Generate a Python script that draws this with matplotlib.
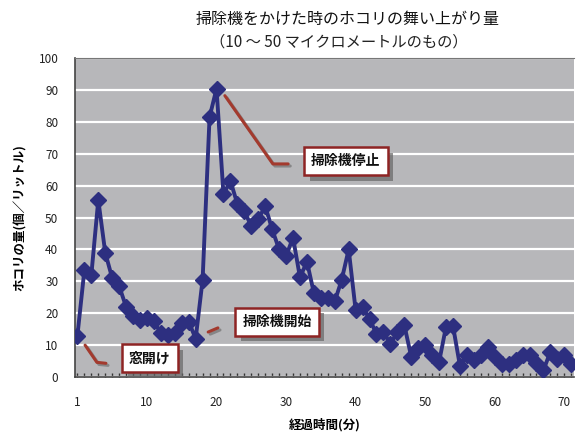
import matplotlib.pyplot as plt
import matplotlib.patheffects as pe
import numpy as np

plt.rcParams['font.family'] = ['Noto Sans CJK JP', 'DejaVu Sans']

# dust per litre, one reading per minute (72 readings)
dust = [13, 33.5, 32, 55.5, 39, 31, 28.5, 22, 19, 18, 18.5, 17.5,
        13.7, 13.2, 13.7, 16.8, 17.4, 12, 30.5, 81.5, 90.4, 57.3,
        61.5, 54.2, 52, 47.3, 49.4, 53.6, 46.3, 40, 37.9, 43.7,
        31.2, 36.2, 26.3, 24.7, 24.7, 23.7, 30.5, 40, 21, 22,
        18.2, 13.5, 14, 10.5, 14, 16.3, 6.3, 9, 10, 6.8,
        4.7, 15.8, 16, 3.5, 6.8, 5.3, 6.8, 9.5, 6.3, 4.2,
        4.2, 5.3, 6.8, 6.8, 4.3, 2.1, 7.9, 5.8, 6.8, 4.2]
tick_pos = [0, 10, 20, 30, 40, 50, 60, 70]
tick_labels = ['1', '10', '20', '30', '40', '50', '60', '70']
y_ticks = list(range(0, 101, 10))

title = '掃除機をかけた時のホコリの舞い上がり量'
subtitle = '（10 ～ 50 マイクロメートルのもの）'
xlabel = '経過時間(分)'
ylabel = 'ホコリの量(個／リットル)'

# callouts: text, box centre, leader line points (data units)
notes = [
    ('掃除機停止', (38.6, 67.7), [(21.2, 88.2), (28.1, 66.8), (30.3, 66.8)]),
    ('窓開け', (10.4, 5.9), [(1.1, 10.0), (2.8, 4.6), (4.1, 4.3)]),
    ('掃除機開始', (28.7, 17.3), [(18.8, 14.1), (20.2, 15.4)]),
]

navy = '#2d2f80'
red = '#8e2424'

fig = plt.figure(figsize=(5.84, 4.33), dpi=100)
ax = fig.add_axes([0.1284, 0.1293, 0.8545, 0.7367])
ax.set_facecolor('#b7b7ba')

x = np.arange(len(dust))
ax.plot(x, dust, color=navy, linewidth=2.8, marker='D', markersize=8.5,
        markerfacecolor=navy, markeredgecolor=navy, zorder=4)

ax.set_xlim(-0.35, 71.4)
ax.set_ylim(0, 100)
ax.set_yticks(y_ticks)
ax.set_xticks(tick_pos)
ax.set_xticklabels(tick_labels)
ax.set_xticks(x, minor=True)
ax.tick_params(axis='y', length=0, pad=12, labelsize=8.5, labelcolor='#222')
ax.tick_params(axis='x', which='both', direction='in', length=3, width=1,
               color='#333', pad=14, labelsize=8.5, labelcolor='#222')
ax.yaxis.grid(True, color='white', linewidth=1.6)
ax.set_axisbelow(True)

for side in ['left', 'bottom']:
    ax.spines[side].set_color('#444')
    ax.spines[side].set_linewidth(1.2)
ax.spines['top'].set_color('#777')
ax.spines['top'].set_linewidth(0.8)
ax.spines['right'].set_visible(False)

ax.set_xlabel(xlabel, fontsize=9, fontweight='bold', labelpad=6)
ax.set_ylabel(ylabel, fontsize=9, fontweight='bold', labelpad=8)

fig.text(0.595, 0.955, title, ha='center', va='center', fontsize=11.5, color='#111')
fig.text(0.58, 0.902, subtitle, ha='center', va='center', fontsize=11, color='#222')

for label, (bx, by), pts in notes:
    px = [p[0] for p in pts]
    py = [p[1] for p in pts]
    ax.plot(px, py, color='#a33a2e', linewidth=2.2, solid_capstyle='round', zorder=5,
            path_effects=[pe.SimpleLineShadow(offset=(1.5, -1.5), shadow_color='#666', alpha=0.6),
                          pe.Normal()])
    t = ax.text(bx, by, label, ha='center', va='center', fontsize=10, fontweight='bold',
                color='#111', zorder=6,
                bbox=dict(boxstyle='square,pad=0.5', facecolor='white',
                          edgecolor=red, linewidth=1.8))
    t.get_bbox_patch().set_path_effects([
        pe.SimplePatchShadow(offset=(4, -4), shadow_rgbFace='#666', alpha=0.7),
        pe.Normal()])

fig.savefig('out.png', dpi=100)
